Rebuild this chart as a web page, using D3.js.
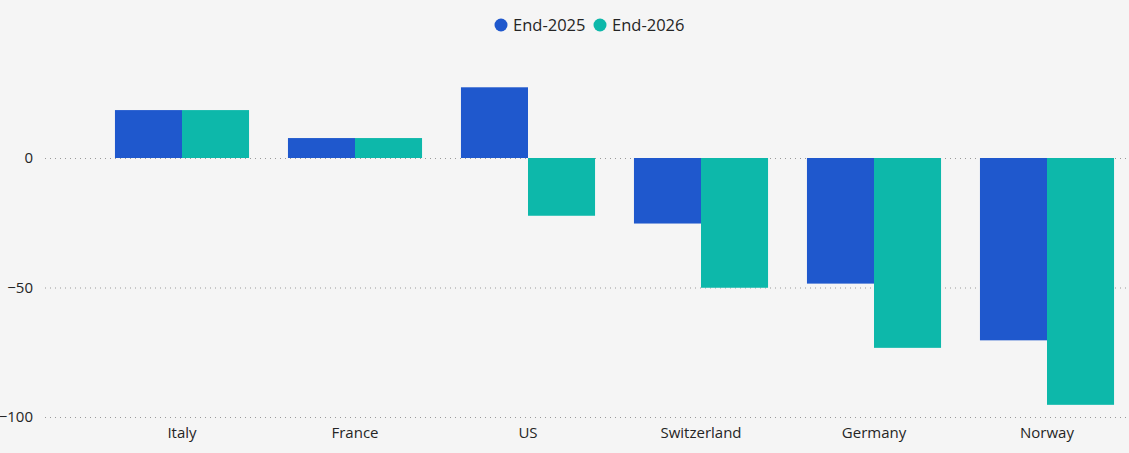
<!DOCTYPE html>
<html>
<head>
<meta charset="utf-8">
<script src="https://cdn.jsdelivr.net/npm/d3@7"></script>
<style>
	html, body { margin: 0; padding: 0; background: #f5f5f5; }
	svg { display: block; font-family: "Open Sans", "Noto Sans", sans-serif; }
</style>
</head>
<body>
<script>
(function() {

	var countries = ['Italy', 'France', 'US', 'Switzerland', 'Germany', 'Norway'];
	var seriesNames = ['End-2025', 'End-2026'];
	var end2025 = [18.5, 7.7, 27.3, -25.3, -48.5, -70.4];
	var end2026 = [18.5, 7.7, -22.3, -50.1, -73.3, -95.3];
	var yTicks = [0, -50, -100];

	var colors = ['#1f58cd', '#0db8aa'];
	var width = 1129, height = 453;

	var svg = d3.select('body').append('svg')
		.attr('width', width)
		.attr('height', height);

	var x = d3.scaleBand()
		.domain(countries)
		.range([95.5, 1133.5])
		.paddingInner(0.225)
		.paddingOuter(0.1125);

	var xSub = d3.scaleBand()
		.domain(seriesNames)
		.range([0, x.bandwidth()]);

	var y = d3.scaleLinear()
		.domain([-100, 0])
		.range([417, 158]);

	// Grid lines
	svg.append('g')
		.selectAll('line')
		.data(yTicks)
		.enter()
		.append('line')
		.attr('x1', 45)
		.attr('x2', width)
		.attr('y1', function(d) { return y(d) + 0.5; })
		.attr('y2', function(d) { return y(d) + 0.5; })
		.attr('stroke', '#999')
		.attr('stroke-width', 1)
		.attr('stroke-dasharray', '1,4');

	// Y labels
	svg.append('g')
		.selectAll('text')
		.data(yTicks)
		.enter()
		.append('text')
		.attr('x', 33)
		.attr('y', function(d) { return y(d); })
		.attr('dy', '0.35em')
		.attr('text-anchor', 'end')
		.attr('font-size', 15)
		.attr('fill', '#252525')
		.text(function(d) { return d3.format('d')(d); });

	// Bars
	var rows = countries.map(function(c, i) {
		return { country: c, values: [end2025[i], end2026[i]] };
	});

	var groups = svg.append('g')
		.selectAll('g')
		.data(rows)
		.enter()
		.append('g')
		.attr('transform', function(d) { return 'translate(' + x(d.country) + ',0)'; });

	groups.selectAll('rect')
		.data(function(d) { return d.values.map(function(v, j) { return { name: seriesNames[j], value: v, k: j }; }); })
		.enter()
		.append('rect')
		.attr('x', function(d) { return xSub(d.name); })
		.attr('width', xSub.bandwidth())
		.attr('y', function(d) { return Math.min(y(d.value), y(0)); })
		.attr('height', function(d) { return Math.abs(y(d.value) - y(0)); })
		.attr('fill', function(d) { return colors[d.k]; });

	// X labels
	svg.append('g')
		.selectAll('text')
		.data(countries)
		.enter()
		.append('text')
		.attr('x', function(d) { return x(d) + x.bandwidth() / 2; })
		.attr('y', 433)
		.attr('dy', '0.35em')
		.attr('text-anchor', 'middle')
		.attr('font-size', 15)
		.attr('fill', '#252525')
		.text(function(d) { return d; });

	// Legend
	var legendX = [501, 600];
	var legend = svg.append('g')
		.selectAll('g')
		.data(seriesNames)
		.enter()
		.append('g')
		.attr('transform', function(d, i) { return 'translate(' + legendX[i] + ',25)'; });

	legend.append('circle')
		.attr('r', 6.5)
		.attr('fill', function(d, i) { return colors[i]; });

	legend.append('text')
		.attr('x', 12)
		.attr('dy', '0.35em')
		.attr('font-size', 16.5)
		.attr('fill', '#252525')
		.text(function(d) { return d; });

})();
</script>
</body>
</html>
